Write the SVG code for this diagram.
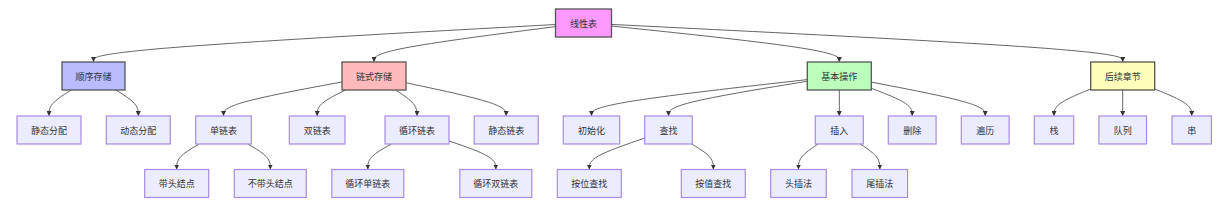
<svg xmlns="http://www.w3.org/2000/svg" width="1231" height="202" viewBox="0 0 1231 202">
<style>
.bg{fill:#ffffff}
.n rect{fill:#ECECFF;stroke:#a88be3;stroke-width:1.2}
.k rect{stroke:#555555;stroke-width:1.3}
text{font-family:"Noto Sans CJK SC","Noto Sans",sans-serif;font-size:9px;fill:#333333;text-anchor:middle;dominant-baseline:central}
.e path{fill:none;stroke:#666666;stroke-width:1;marker-end:url(#arr)}
</style>
<defs>
<marker id="arr" viewBox="0 0 10 10" refX="10" refY="5" markerWidth="5" markerHeight="5" markerUnits="userSpaceOnUse" orient="auto">
<path d="M0,0 L10,5 L0,10 z" fill="#333333"/>
</marker>
</defs>
<rect class="bg" x="0" y="0" width="1231" height="202"/>
<g id="edges" class="e">
<path d="M555.5,24.5 L478.5,28.75 C401.5,33 247.5,41.5 170.5,47.75 C93.5,54 93.5,58 93.5,60 L93.5,62"/>
<path d="M555.5,26.6 L525.25,30.5 C495,34.4 434.5,42.2 404.25,48.1 C374,54 374,58 374,60 L374,62"/>
<path d="M611.5,26 L649.5,30 C687.4,34 763.4,42 801.3,48 C839.3,54 839.3,58 839.3,60 L839.3,62"/>
<path d="M611.5,24.4 L696.7,28.7 C781.9,32.9 952.3,41.5 1037.5,47.7 C1122.7,54 1122.7,58 1122.7,60 L1122.7,62"/>
<path d="M71.25,90 L67.54,92.33 C63.83,94.67 56.42,99.33 52.71,103.67 C49,108 49,112 49,114 L49,116"/>
<path d="M115.9,90 L119.6,92.33 C123.4,94.67 130.8,99.33 134.6,103.67 C138.3,108 138.3,112 138.3,114 L138.3,116"/>
<path d="M342,81.95 L322.25,85.63 C302.5,89.3 263,96.65 243.25,102.33 C223.5,108 223.5,112 223.5,114 L223.5,116"/>
<path d="M345.6,90 L340.9,92.33 C336.1,94.67 326.7,99.33 321.9,103.67 C317.2,108 317.2,112 317.2,114 L317.2,116"/>
<path d="M395.5,90 L399.1,92.33 C402.7,94.67 409.8,99.33 413.4,103.67 C417,108 417,112 417,114 L417,116"/>
<path d="M406,82.78 L422.7,86.32 C439.4,89.85 472.8,96.93 489.5,102.46 C506.2,108 506.2,112 506.2,114 L506.2,116"/>
<path d="M807.3,79.6 L771.3,83.67 C735.4,87.73 663.4,95.87 627.5,101.93 C591.5,108 591.5,112 591.5,114 L591.5,116"/>
<path d="M807.3,81.25 L784.2,85.04 C761,88.83 714.8,96.42 691.6,102.21 C668.5,108 668.5,112 668.5,114 L668.5,116"/>
<path d="M839.3,90 L839.3,116"/>
<path d="M871.3,88.3 L878.1,90.9 C884.9,93.5 898.6,98.8 905.4,103.4 C912.2,108 912.2,112 912.2,114 L912.2,116"/>
<path d="M871.3,82.14 L890.3,85.78 C909.3,89.43 947.2,96.71 966.2,102.36 C985.2,108 985.2,112 985.2,114 L985.2,116"/>
<path d="M1090.7,89.04 L1084.6,91.53 C1078.5,94.03 1066.2,99.01 1060.1,103.51 C1054,108 1054,112 1054,114 L1054,116"/>
<path d="M1122.7,90 L1122.7,116"/>
<path d="M1154.7,89 L1160.9,91.5 C1167,94 1179.4,99 1185.5,103.5 C1191.7,108 1191.7,112 1191.7,114 L1191.7,116"/>
<path d="M199.2,144 L195.5,146.17 C191.7,148.33 184.2,152.67 180.5,156.92 C176.7,161.17 176.7,165.33 176.7,167.42 L176.7,169.5"/>
<path d="M247.8,144 L251.5,146.17 C255.3,148.33 262.8,152.67 266.5,156.92 C270.3,161.17 270.3,165.33 270.3,167.42 L270.3,169.5"/>
<path d="M391.5,144 L387.5,146.17 C383.6,148.33 375.7,152.67 371.7,156.92 C367.8,161.17 367.8,165.33 367.8,167.42 L367.8,169.5"/>
<path d="M449,140.96 L456.8,143.63 C464.6,146.31 480.2,151.65 488,156.41 C495.8,161.17 495.8,165.33 495.8,167.42 L495.8,169.5"/>
<path d="M644.7,138.1 L635.5,141.26 C626.2,144.41 607.8,150.7 598.5,155.94 C589.3,161.17 589.3,165.33 589.3,167.42 L589.3,169.5"/>
<path d="M691.7,144 L695.3,146.17 C698.9,148.33 706.1,152.67 709.7,156.92 C713.3,161.17 713.3,165.33 713.3,167.42 L713.3,169.5"/>
<path d="M818.15,144 L814.9,146.17 C811.6,148.33 805.05,152.67 801.8,156.92 C798.5,161.17 798.5,165.33 798.5,167.42 L798.5,169.5"/>
<path d="M860.3,144 L863.55,146.17 C866.8,148.33 873.3,152.67 876.55,156.92 C879.8,161.17 879.8,165.33 879.8,167.42 L879.8,169.5"/>
</g>
<g id="n-root" class="k"><rect x="555.5" y="9" width="56" height="28" fill="#ff99ff"/><text x="583.5" y="23">线性表</text></g>
<g id="n-seq" class="k"><rect x="62" y="62" width="63" height="28" fill="#bbbbff"/><text x="93.5" y="76">顺序存储</text></g>
<g id="n-link" class="k"><rect x="342" y="62" width="64" height="28" fill="#ffbbbb"/><text x="374" y="76">链式存储</text></g>
<g id="n-ops" class="k"><rect x="807.3" y="62" width="64" height="28" fill="#bbffbb"/><text x="839.3" y="76">基本操作</text></g>
<g id="n-next" class="k"><rect x="1090.7" y="62" width="64" height="28" fill="#ffffbb"/><text x="1122.7" y="76">后续章节</text></g>
<g id="n-static" class="n"><rect x="17" y="116" width="64" height="28"/><text x="49" y="130">静态分配</text></g>
<g id="n-dynamic" class="n"><rect x="106.3" y="116" width="64" height="28"/><text x="138.3" y="130">动态分配</text></g>
<g id="n-single" class="n"><rect x="195.7" y="116" width="55.6" height="28"/><text x="223.5" y="130">单链表</text></g>
<g id="n-double" class="n"><rect x="289.3" y="116" width="55.7" height="28"/><text x="317.2" y="130">双链表</text></g>
<g id="n-circ" class="n"><rect x="385" y="116" width="64" height="28"/><text x="417" y="130">循环链表</text></g>
<g id="n-slink" class="n"><rect x="474.2" y="116" width="64" height="28"/><text x="506.2" y="130">静态链表</text></g>
<g id="n-init" class="n"><rect x="563.3" y="116" width="56.4" height="28"/><text x="591.5" y="130">初始化</text></g>
<g id="n-find" class="n"><rect x="644.7" y="116" width="47.6" height="28"/><text x="668.5" y="130">查找</text></g>
<g id="n-insert" class="n"><rect x="815.3" y="116" width="48" height="28"/><text x="839.3" y="130">插入</text></g>
<g id="n-delete" class="n"><rect x="888.3" y="116" width="47.8" height="28"/><text x="912.2" y="130">删除</text></g>
<g id="n-traverse" class="n"><rect x="961.3" y="116" width="47.8" height="28"/><text x="985.2" y="130">遍历</text></g>
<g id="n-stack" class="n"><rect x="1034.3" y="116" width="39.4" height="28"/><text x="1054" y="130">栈</text></g>
<g id="n-queue" class="n"><rect x="1098.9" y="116" width="47.6" height="28"/><text x="1122.7" y="130">队列</text></g>
<g id="n-string" class="n"><rect x="1172" y="116" width="39.4" height="28"/><text x="1191.7" y="130">串</text></g>
<g id="n-head" class="n"><rect x="144.7" y="169.5" width="64" height="28"/><text x="176.7" y="183.5">带头结点</text></g>
<g id="n-nohead" class="n"><rect x="234.3" y="169.5" width="72" height="28"/><text x="270.3" y="183.5">不带头结点</text></g>
<g id="n-csingle" class="n"><rect x="331.8" y="169.5" width="72" height="28"/><text x="367.8" y="183.5">循环单链表</text></g>
<g id="n-cdouble" class="n"><rect x="459.8" y="169.5" width="72" height="28"/><text x="495.8" y="183.5">循环双链表</text></g>
<g id="n-bypos" class="n"><rect x="557.3" y="169.5" width="64" height="28"/><text x="589.3" y="183.5">按位查找</text></g>
<g id="n-byval" class="n"><rect x="681.3" y="169.5" width="64" height="28"/><text x="713.3" y="183.5">按值查找</text></g>
<g id="n-headins" class="n"><rect x="770.7" y="169.5" width="55.6" height="28"/><text x="798.5" y="183.5">头插法</text></g>
<g id="n-tailins" class="n"><rect x="852" y="169.5" width="55.6" height="28"/><text x="879.8" y="183.5">尾插法</text></g>
</svg>
